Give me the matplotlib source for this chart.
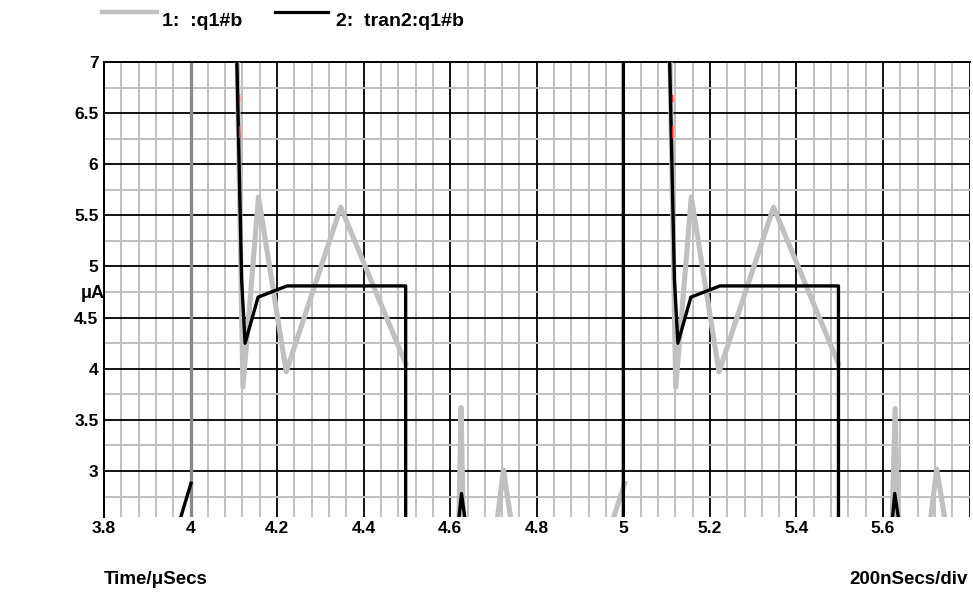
import numpy as np
import matplotlib
matplotlib.use("Agg")
from matplotlib import pyplot as plt
from matplotlib.lines import Line2D

nan = np.nan

# trace 1 ":q1#b" (grey)
q1_x = [4.107, 4.121, 4.157, 4.221, 4.347, 4.497, nan,
        4.620, 4.625, 4.630, nan,
        4.708, 4.723, 4.741, nan,
        4.974, 5.003, nan,
        5.107, 5.121, 5.157, 5.221, 5.347, 5.497, nan,
        5.621, 5.628, 5.634, nan,
        5.709, 5.724, 5.744]
q1_y = [7.2, 3.82, 5.68, 3.97, 5.58, 4.05, nan,
        2.5, 3.62, 2.5, nan,
        2.5, 3.01, 2.5, nan,
        2.5, 2.88, nan,
        7.2, 3.82, 5.68, 3.97, 5.58, 4.05, nan,
        2.5, 3.61, 2.5, nan,
        2.5, 3.02, 2.5]

# trace 2 "tran2:q1#b" (black)
tran2_x = [3.974, 4.001, nan,
           4.106, 4.112, 4.118, 4.126, 4.156, 4.223, 4.497, 4.497, nan,
           4.619, 4.626, 4.635, nan,
           5.0, 5.0, nan,
           5.106, 5.112, 5.118, 5.126, 5.156, 5.223, 5.497, 5.497, nan,
           5.621, 5.627, 5.637]
tran2_y = [2.5, 2.88, nan,
           7.2, 6.04, 4.87, 4.25, 4.70, 4.81, 4.81, 2.5, nan,
           2.5, 2.78, 2.5, nan,
           2.5, 7.2, nan,
           7.2, 6.04, 4.87, 4.25, 4.70, 4.81, 4.81, 2.5, nan,
           2.5, 2.78, 2.5]

# small red fragments peeking out beside the black trace
red_x = [4.1118, 4.1118, nan, 4.1128, 4.1128, nan,
         5.1118, 5.1118, nan, 5.1128, 5.1128]
red_y = [6.68, 6.62, nan, 6.37, 6.27, nan,
         6.68, 6.62, nan, 6.37, 6.27]

cursor_x = [4.0]

x_ticks = [3.8, 4.0, 4.2, 4.4, 4.6, 4.8, 5.0, 5.2, 5.4, 5.6]
x_labels = ["3.8", "4", "4.2", "4.4", "4.6", "4.8", "5", "5.2", "5.4", "5.6"]
y_ticks = [3.0, 3.5, 4.0, 4.5, 5.0, 5.5, 6.0, 6.5, 7.0]
y_labels = ["3", "3.5", "4", "4.5", "5", "5.5", "6", "6.5", "7"]

plt.rcParams['font.family'] = ['Liberation Sans', 'DejaVu Sans']
plt.rcParams['font.weight'] = 'bold'

W, H = 973, 595
fig = plt.figure(figsize=(W / 100, H / 100), dpi=100)
ax = fig.add_axes([104 / W, 78 / H, 865.6 / W, 455 / H])

ax.set_xlim(3.8, 5.8)
ax.set_ylim(2.55, 7.0)

ax.set_xticks(np.arange(3.8, 5.801, 0.04), minor=True)
ax.set_yticks(np.arange(2.75, 7.01, 0.25), minor=True)
ax.set_yticks(y_ticks)
ax.set_yticklabels(y_labels)
ax.set_xticks(x_ticks + [5.8])
ax.set_xticklabels(x_labels + [""])

ax.set_axisbelow(True)
ax.grid(which='minor', color='#c0c0c0', lw=1.4)
ax.grid(which='major', color='black', lw=1.3)
ax.tick_params(which='both', length=0)
ax.tick_params(axis='x', pad=3, labelsize=12.5)
ax.tick_params(axis='y', pad=4, labelsize=12.5)
for lab in ax.get_xticklabels() + ax.get_yticklabels():
    lab.set_fontweight('bold')

for side in ['right', 'bottom']:
    ax.spines[side].set_visible(False)
for side in ['left', 'top']:
    ax.spines[side].set_color('black')
    ax.spines[side].set_linewidth(1.4)

for cx in cursor_x:
    ax.axvline(cx, color='#8a8a8a', lw=2.4, zorder=2)

ax.plot(q1_x, q1_y, color='#c0c0c0', lw=3.7, zorder=3)
ax.plot(red_x, red_y, color='#ff2020', lw=1.0, zorder=5)
ax.plot(tran2_x, tran2_y, color='black', lw=2.4, zorder=4)

# legend along the top
fig.add_artist(Line2D([102 / W, 157 / W], [1 - 12 / H, 1 - 12 / H], color='#c0c0c0', lw=3.2))
fig.text(162 / W, 1 - 21 / H, "1:  :q1#b", fontsize=14, fontweight='bold', va='center', ha='left')
fig.add_artist(Line2D([275 / W, 328 / W], [1 - 12 / H, 1 - 12 / H], color='black', lw=2.3))
fig.text(336 / W, 1 - 21 / H, "2:  tran2:q1#b", fontsize=14, fontweight='bold', va='center', ha='left')

fig.text(93 / W, 1 - 293 / H, "\u03bcA", fontsize=13, fontweight='bold', va='center', ha='center')
fig.text(104 / W, 1 - 580 / H, "Time/\u03bcSecs", fontsize=13.5, fontweight='bold', va='center', ha='left')
fig.text(968 / W, 1 - 580 / H, "200nSecs/div", fontsize=13.5, fontweight='bold', va='center', ha='right')

fig.savefig("out.png", dpi=100, facecolor='white')
